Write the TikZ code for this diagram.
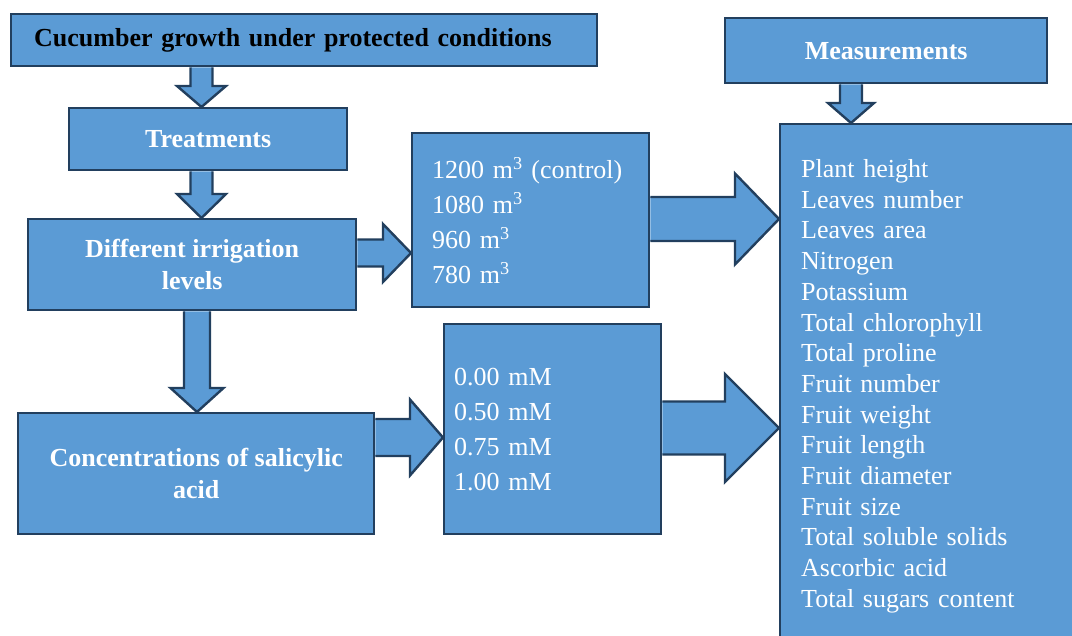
\documentclass[tikz,border=0pt]{standalone}
\usepackage{fontspec}
\setmainfont{Liberation Serif}
\usetikzlibrary{calc,backgrounds}
\definecolor{fillb}{HTML}{5B9BD5}
\definecolor{edge}{HTML}{223F5E}
\tikzset{
  box/.style={draw=edge, fill=fillb, line width=2.4pt, anchor=north west, inner sep=0pt,
    font=\fontsize{26}{32}\selectfont\bfseries, text=white, align=center},
  listbox/.style={box, font=\fontsize{26}{35}\selectfont, align=left},
  blk/.style={draw=edge, fill=fillb, line width=2.4pt, line join=miter},
}
% vertical block arrow: src, dst, x centre, shaft half, head half, head length
\newcommand\varr[6]{\draw[blk] let \p1=(#1.south), \p2=(#2.north) in
  ({#3pt-#4pt},\y1) -- ({#3pt-#4pt},{\y2+#6pt}) -- ({#3pt-#5pt},{\y2+#6pt}) -- (#3pt,\y2)
  -- ({#3pt+#5pt},{\y2+#6pt}) -- ({#3pt+#4pt},{\y2+#6pt}) -- ({#3pt+#4pt},\y1);}
% horizontal block arrow: src, dst, y centre, shaft half, head half, head length
\newcommand\harr[6]{\draw[blk] let \p1=(#1.east), \p2=(#2.west) in
  (\x1,{-#3pt+#4pt}) -- ({\x2-#6pt},{-#3pt+#4pt}) -- ({\x2-#6pt},{-#3pt+#5pt}) -- (\x2,-#3pt)
  -- ({\x2-#6pt},{-#3pt-#5pt}) -- ({\x2-#6pt},{-#3pt-#4pt}) -- (\x1,{-#3pt-#4pt});}
\begin{document}
\begin{tikzpicture}[x=1pt,y=-1pt]
\useasboundingbox (0,0) rectangle (1072,636);

\node[box, text=black, minimum width=586pt, minimum height=52pt, text width=540pt, align=left] (title) at (10,13)
  {Cucumber growth under protected conditions};
\node[box, minimum width=278pt, minimum height=62pt] (treat) at (68,107) {Treatments};
\node[box, minimum width=328pt, minimum height=91pt] (irr) at (27,218) {Different irrigation\\levels};
\node[box, minimum width=356pt, minimum height=121pt] (sal) at (17,412) {Concentrations of salicylic\\acid};
\node[listbox, minimum width=237pt, minimum height=174pt, text width=197pt] (vals) at (411,132)
  {1200 m\textsuperscript{3} (control)\\1080 m\textsuperscript{3}\\960 m\textsuperscript{3}\\780 m\textsuperscript{3}};
\node[listbox, minimum width=217pt, minimum height=210pt, text width=197pt] (conc) at (443,323)
  {0.00 mM\\0.50 mM\\0.75 mM\\1.00 mM};
\node[box, minimum width=322pt, minimum height=65pt] (mtitle) at (724,17) {Measurements};
\node[listbox, font=\fontsize{26}{30.7}\selectfont, minimum width=300pt, minimum height=524pt, text width=258pt] (meas) at (779,123)
  {Plant height\\Leaves number\\Leaves area\\Nitrogen\\Potassium\\Total chlorophyll\\Total proline\\Fruit number\\Fruit weight\\Fruit length\\Fruit diameter\\Fruit size\\Total soluble solids\\Ascorbic acid\\Total sugars content};

\begin{pgfonlayer}{background}
\varr{title}{treat}{201.5}{11}{24.5}{21}
\varr{treat}{irr}{201.5}{11}{24.5}{24}
\varr{irr}{sal}{197}{13}{26.5}{24}
\varr{mtitle}{meas}{851}{11}{23}{20}
\harr{irr}{vals}{253}{13.5}{29}{28}
\harr{vals}{meas}{219}{22}{45.5}{44}
\harr{sal}{conc}{437.5}{18.5}{38}{33}
\harr{conc}{meas}{428}{26.5}{54}{54}
\end{pgfonlayer}
\end{tikzpicture}
\end{document}
